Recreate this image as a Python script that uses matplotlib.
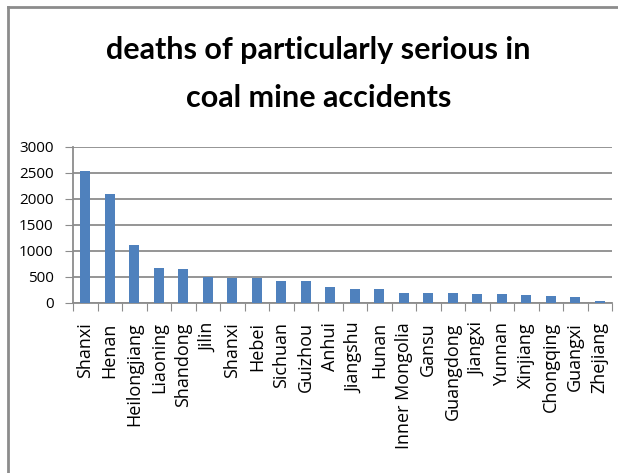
import matplotlib.pyplot as plt

provinces = ["Shanxi", "Henan", "Heilongjiang", "Liaoning", "Shandong", "Jilin",
             "Shanxi", "Hebei", "Sichuan", "Guizhou", "Anhui", "Jiangshu", "Hunan",
             "Inner Mongolia", "Gansu", "Guangdong", "Jiangxi", "Yunnan", "Xinjiang",
             "Chongqing", "Guangxi", "Zhejiang"]
deaths = [2533, 2090, 1110, 673, 648, 500, 475, 475, 410, 410, 308, 263, 263,
          180, 180, 180, 161, 161, 142, 123, 104, 40]
yticks = [0, 500, 1000, 1500, 2000, 2500, 3000]
title_lines = ["deaths of particularly serious in", "coal mine accidents"]

plt.rcParams["font.family"] = ["Open Sans", "DejaVu Sans"]
W, H = 618, 473

fig = plt.figure(figsize=(W / 100, H / 100), dpi=100)
# chart frame, only the left and top edges fall inside the image
frame = dict(transform=fig.transFigure, color="#8c8c8c", lw=2)
fig.add_artist(plt.Line2D([8 / W, 8 / W], [0, 1 - 7 / H], **frame))
fig.add_artist(plt.Line2D([8 / W, 1], [1 - 7 / H, 1 - 7 / H], **frame))

for line, base in zip(title_lines, [59, 107]):
    fig.text(0.515, 1 - base / H, line, ha="center", va="baseline",
             fontsize=22, fontweight="bold", family=["Lato", "DejaVu Sans"])

ax = fig.add_axes([73 / W, 1 - 302.7 / H, (612 - 73) / W, 156 / H])
x = range(len(provinces))
ax.bar(x, deaths, width=0.41, color="#4f81bd", zorder=3)
ax.set_xlim(-0.5, len(provinces) - 0.5)
ax.set_ylim(0, 3000)
ax.set_yticks(yticks)
ax.set_yticklabels([str(v) for v in yticks], fontsize=11)
ax.yaxis.grid(True, color="#8c8c8c", lw=1.3, zorder=0)

# ticks sit between categories, labels under each bar
ax.set_xticks([i - 0.5 for i in range(len(provinces) + 1)])
ax.set_xticklabels([])
ax.set_xticks(list(x), minor=True)
ax.set_xticklabels(provinces, minor=True, rotation=90, fontsize=13, va="top")
ax.tick_params(axis="x", which="minor", length=0, pad=14)
ax.tick_params(axis="x", which="major", length=6, color="#8c8c8c")
ax.tick_params(axis="y", length=6, color="#8c8c8c", pad=8)

for side in ["top", "right"]:
    ax.spines[side].set_visible(False)
for side in ["left", "bottom"]:
    ax.spines[side].set_color("#8c8c8c")
    ax.spines[side].set_linewidth(1.3)

fig.savefig("out.png", dpi=100)
